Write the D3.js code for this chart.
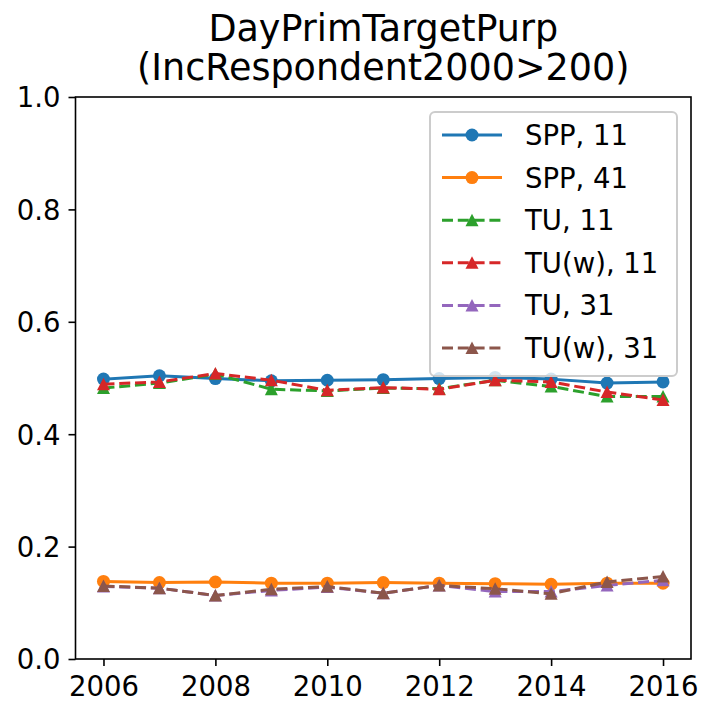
<!DOCTYPE html>
<html><head><meta charset="utf-8">
<script src="https://cdn.jsdelivr.net/npm/d3@7"></script>
<style>body{margin:0;background:#fff}svg{display:block;font-family:"DejaVu Sans",sans-serif}</style>
</head><body>
<script>
const years = [2006,2007,2008,2009,2010,2011,2012,2013,2014,2015,2016];
const spp11  = [0.498,0.504,0.499,0.495,0.496,0.497,0.499,0.501,0.498,0.491,0.493];
const spp41  = [0.138,0.136,0.137,0.135,0.135,0.136,0.135,0.134,0.133,0.135,0.135];
const tu11   = [0.482,0.491,0.507,0.480,0.477,0.482,0.481,0.496,0.485,0.467,0.467];
const tuw11  = [0.489,0.493,0.508,0.496,0.478,0.483,0.480,0.496,0.493,0.475,0.461];
const tu31   = [0.129,0.126,0.113,0.122,0.128,0.117,0.131,0.120,0.120,0.131,0.140];
const tuw31  = [0.130,0.126,0.113,0.124,0.129,0.117,0.131,0.125,0.116,0.137,0.147];
const yTicks = [0.0,0.2,0.4,0.6,0.8,1.0];
const xTicks = [2006,2008,2010,2012,2014,2016];
const titleLines = ["DayPrimTargetPurp","(IncRespondent2000>200)"];

const series = [
  {name:"SPP, 11", values:spp11, color:"#1f77b4", marker:"circle", dash:null},
  {name:"SPP, 41", values:spp41, color:"#ff7f0e", marker:"circle", dash:null},
  {name:"TU, 11", values:tu11, color:"#2ca02c", marker:"tri", dash:"11,4.8"},
  {name:"TU(w), 11", values:tuw11, color:"#d62728", marker:"tri", dash:"11,4.8"},
  {name:"TU, 31", values:tu31, color:"#9467bd", marker:"tri", dash:"11,4.8"},
  {name:"TU(w), 31", values:tuw31, color:"#8c564b", marker:"tri", dash:"11,4.8"}
];

const W=715,H=717;
const L=75.5,R=691,T=97,B=659;
const svg=d3.select("body").append("svg").attr("width",W).attr("height",H);
const x=d3.scaleLinear().domain([2005.5,2016.5]).range([L,R]);
const y=d3.scaleLinear().domain([0,1]).range([B,T]);

const tri = "M0,-6.5L-6.5,6L6.5,6Z";
function drawMarker(g,m,color,cx,cy){
  if(m==="circle") g.append("circle").attr("cx",cx).attr("cy",cy).attr("r",6.5).attr("fill",color);
  else g.append("path").attr("d",tri).attr("transform",`translate(${cx},${cy})`).attr("fill",color);
}

const plot=svg.append("g");
const line=d3.line().x((d,i)=>x(years[i])).y(d=>y(d));
series.forEach(s=>{
  const g=plot.append("g");
  g.append("path").datum(s.values).attr("d",line).attr("fill","none")
    .attr("stroke",s.color).attr("stroke-width",3).attr("stroke-dasharray",s.dash)
    .attr("stroke-linecap", s.dash? "butt":"square").attr("stroke-linejoin","round");
  s.values.forEach((v,i)=>drawMarker(g,s.marker,s.color,x(years[i]),y(v)));
});

// axes
const xa=svg.append("g").attr("transform",`translate(0,${B})`)
  .call(d3.axisBottom(x).tickValues(xTicks).tickFormat(d3.format("d")).tickSize(7).tickPadding(8));
const ya=svg.append("g").attr("transform",`translate(${L},0)`)
  .call(d3.axisLeft(y).tickValues(yTicks).tickFormat(d3.format(".1f")).tickSize(7).tickPadding(8));
[xa,ya].forEach(a=>{
  a.select(".domain").remove();
  a.selectAll(".tick line").attr("stroke","#000").attr("stroke-width",1.6);
  a.selectAll(".tick text").attr("fill","#000").style("font-size","27.5px").style("font-family","DejaVu Sans");
});
xa.selectAll(".tick text").attr("dy",null).attr("y",37);
ya.selectAll(".tick text").attr("dy","0.36em");
svg.append("rect").attr("x",L).attr("y",T).attr("width",R-L).attr("height",B-T)
  .attr("fill","none").attr("stroke","#000").attr("stroke-width",1.6);

// title
svg.append("text").attr("x",(L+R)/2).attr("y",41).attr("text-anchor","middle")
  .style("font-size","36.5px").attr("fill","#000").text(titleLines[0]);
svg.append("text").attr("x",(L+R)/2).attr("y",80).attr("text-anchor","middle")
  .style("font-size","36.5px").attr("fill","#000").text(titleLines[1]);

// legend
const lg=svg.append("g");
lg.append("rect").attr("x",430).attr("y",112).attr("width",247).attr("height",264)
  .attr("rx",5).attr("fill","#fff").attr("fill-opacity",0.8).attr("stroke","#cccccc").attr("stroke-width",2);
series.forEach((s,i)=>{
  const cy=135+i*42.6;
  lg.append("line").attr("x1",442).attr("x2",502).attr("y1",cy).attr("y2",cy)
    .attr("stroke",s.color).attr("stroke-width",3).attr("stroke-dasharray",s.dash);
  drawMarker(lg,s.marker,s.color,472,cy);
  lg.append("text").attr("x",525).attr("y",cy).attr("dy","0.36em").style("font-size","27.5px")
    .attr("fill","#000").text(s.name);
});
</script>
</body></html>
